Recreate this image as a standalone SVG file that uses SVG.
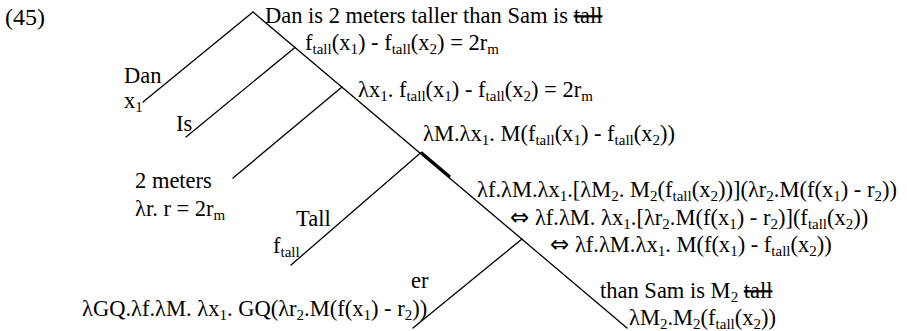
<svg xmlns="http://www.w3.org/2000/svg" width="907" height="331" viewBox="0 0 907 331" font-family="'Liberation Serif', Tinos, 'Times New Roman', 'Nimbus Roman', 'DejaVu Serif', serif">
<style>
text{font-family:'Liberation Serif', Tinos, 'Times New Roman', 'Nimbus Roman', 'DejaVu Serif', serif;font-size:22.5px;fill:#000}
.s{font-size:15px;baseline-shift:-4px}
.st{text-decoration:line-through}
.iff{font-family:'DejaVu Sans', sans-serif;font-size:23px}
.e{stroke:#000;stroke-width:1.3;fill:none;stroke-linecap:round}
.thick{stroke:#000;stroke-width:3;fill:none}
</style>
<rect width="907" height="331" fill="#fff"/>
<g id="connectors">
<line class="e" x1="253" y1="12" x2="627" y2="328"/>
<line class="e" x1="253" y1="12" x2="143" y2="102"/>
<line class="e" x1="295" y1="47.5" x2="186" y2="137"/>
<line class="e" x1="342" y1="87" x2="233" y2="178"/>
<line class="e" x1="421" y1="152.5" x2="291" y2="265"/>
<line class="thick" x1="421" y1="152.5" x2="450" y2="177"/>
<line class="e" x1="522" y1="239" x2="413" y2="328"/>
</g>
<g id="label"><text x="5" y="25" style="font-size:24px">(45)</text></g>
<g id="root">
<text x="265" y="23">Dan is 2 meters taller than Sam is <tspan class="st">tall</tspan></text>
<text x="305" y="50">f<tspan class="s">tall</tspan>(x<tspan class="s">1</tspan>) - f<tspan class="s">tall</tspan>(x<tspan class="s">2</tspan>) = 2r<tspan class="s">m</tspan></text>
</g>
<g id="dan">
<text x="124" y="83">Dan</text>
<text x="124" y="108">x<tspan class="s">1</tspan></text>
</g>
<g id="vp1">
<text x="358" y="97">λx<tspan class="s">1</tspan>. f<tspan class="s">tall</tspan>(x<tspan class="s">1</tspan>) - f<tspan class="s">tall</tspan>(x<tspan class="s">2</tspan>) = 2r<tspan class="s">m</tspan></text>
</g>
<g id="is"><text x="176" y="131">Is</text></g>
<g id="meters">
<text x="135" y="188">2 meters</text>
<text x="135" y="216">λr. r = 2r<tspan class="s">m</tspan></text>
</g>
<g id="ap">
<text x="423" y="141">λM.λx<tspan class="s">1</tspan>. M(f<tspan class="s">tall</tspan>(x<tspan class="s">1</tspan>) - f<tspan class="s">tall</tspan>(x<tspan class="s">2</tspan>))</text>
</g>
<g id="tall">
<text x="296" y="226">Tall</text>
<text x="273" y="253">f<tspan class="s">tall</tspan></text>
</g>
<g id="degp">
<text x="477" y="197">λf.λM.λx<tspan class="s">1</tspan>.[λM<tspan class="s">2</tspan>. M<tspan class="s">2</tspan>(f<tspan class="s">tall</tspan>(x<tspan class="s">2</tspan>))](λr<tspan class="s">2</tspan>.M(f(x<tspan class="s">1</tspan>) - r<tspan class="s">2</tspan>))</text>
<text x="510" y="225"><tspan class="iff">⇔</tspan> λf.λM. λx<tspan class="s">1</tspan>.[λr<tspan class="s">2</tspan>.M(f(x<tspan class="s">1</tspan>) - r<tspan class="s">2</tspan>)](f<tspan class="s">tall</tspan>(x<tspan class="s">2</tspan>))</text>
<text x="550" y="252"><tspan class="iff">⇔</tspan>  λf.λM.λx<tspan class="s">1</tspan>. M(f(x<tspan class="s">1</tspan>) - f<tspan class="s">tall</tspan>(x<tspan class="s">2</tspan>))</text>
</g>
<g id="er">
<text x="411" y="288">er</text>
<text x="82" y="316">λGQ.λf.λM. λx<tspan class="s">1</tspan>. GQ(λr<tspan class="s">2</tspan>.M(f(x<tspan class="s">1</tspan>) - r<tspan class="s">2</tspan>))</text>
</g>
<g id="than">
<text x="600" y="298">than Sam is M<tspan class="s">2</tspan> <tspan class="st">tall</tspan></text>
<text x="629" y="325">λM<tspan class="s">2</tspan>.M<tspan class="s">2</tspan>(f<tspan class="s">tall</tspan>(x<tspan class="s">2</tspan>))</text>
</g>
</svg>
